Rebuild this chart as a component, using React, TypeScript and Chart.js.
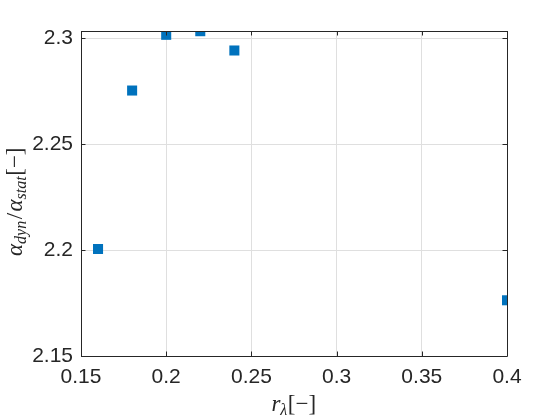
import React, { useEffect, useRef } from "react";
import { Chart, registerables } from "chart.js";
Chart.register(...registerables);

const rLambda = [0.16, 0.18, 0.2, 0.22, 0.24, 0.4];
const alphaRatio = [2.2005, 2.2753, 2.3016, 2.3033, 2.2942, 2.1763];
const xTicks = [0.15, 0.2, 0.25, 0.3, 0.35, 0.4];
const yTicks = [2.15, 2.2, 2.25, 2.3];
const xRange = [0.15, 0.4];
const yRange = [2.15, 2.3034];

const AXIS = "#262626";
const GRID = "#dfdfdf";
const MARK = "#0072BD";
const TICK_FONT = "'Liberation Sans', Arial, Helvetica, sans-serif";
const SERIF = "'Liberation Serif', 'Times New Roman', serif";

type Part = { t: string; size: number; italic: boolean; dy: number; gap?: number };

function drawRich(ctx: CanvasRenderingContext2D, parts: Part[], cx: number, baseline: number) {
  let total = 0;
  const widths: number[] = [];
  for (const p of parts) {
    ctx.font = `${p.italic ? "italic " : ""}${p.size}px ${SERIF}`;
    const w = ctx.measureText(p.t).width + (p.gap || 0);
    widths.push(w);
    total += w;
  }
  let x = cx - total / 2;
  parts.forEach((p, i) => {
    ctx.font = `${p.italic ? "italic " : ""}${p.size}px ${SERIF}`;
    ctx.fillText(p.t, x + (p.gap || 0) / 2, baseline + p.dy);
    x += widths[i];
  });
}

const decorPlugin = {
  id: "decor",
  afterDraw(chart: any) {
    const { ctx, chartArea } = chart;
    const { left, right, top, bottom } = chartArea;
    const xs = chart.scales.x;
    const ys = chart.scales.y;
    ctx.save();
    ctx.strokeStyle = AXIS;
    ctx.lineWidth = 1;
    ctx.beginPath();
    ctx.rect(Math.round(left) + 0.5, Math.round(top) + 0.5, Math.round(right) - Math.round(left), Math.round(bottom) - Math.round(top));
    ctx.stroke();
    const tl = 4.5;
    ctx.beginPath();
    for (const v of xTicks) {
      const px = Math.round(xs.getPixelForValue(v)) + 0.5;
      ctx.moveTo(px, bottom);
      ctx.lineTo(px, bottom - tl);
      ctx.moveTo(px, top);
      ctx.lineTo(px, top + tl);
    }
    for (const v of yTicks) {
      const py = Math.round(ys.getPixelForValue(v)) + 0.5;
      ctx.moveTo(left, py);
      ctx.lineTo(left + tl, py);
      ctx.moveTo(right, py);
      ctx.lineTo(right - tl, py);
    }
    ctx.stroke();

    ctx.fillStyle = AXIS;
    ctx.textBaseline = "alphabetic";
    ctx.textAlign = "left";
    // x axis title: r_λ [−]
    drawRich(
      ctx,
      [
        { t: "r", size: 23, italic: true, dy: 0 },
        { t: "λ", size: 16, italic: true, dy: 4 },
        { t: "[−]", size: 23, italic: false, dy: 0, gap: 1 },
      ],
      (left + right) / 2,
      411
    );
    // y axis title: α_dyn/α_stat [−]
    ctx.save();
    ctx.translate(22, (top + bottom) / 2 + 8);
    ctx.rotate(-Math.PI / 2);
    drawRich(
      ctx,
      [
        { t: "α", size: 23, italic: true, dy: 0 },
        { t: "dyn", size: 16, italic: true, dy: 4 },
        { t: "/", size: 23, italic: false, dy: 0, gap: 3 },
        { t: "α", size: 23, italic: true, dy: 0 },
        { t: "stat", size: 16, italic: true, dy: 4 },
        { t: "[−]", size: 23, italic: false, dy: 0, gap: 1 },
      ],
      0,
      0
    );
    ctx.restore();
    ctx.restore();
  },
};

function fmt(v: number) {
  return String(Number(v.toFixed(4)));
}

export default function App() {
  const ref = useRef<HTMLCanvasElement | null>(null);
  useEffect(() => {
    document.body.style.margin = "0";
    const canvas = ref.current!;
    const chart = new Chart(canvas, {
      type: "scatter",
      data: {
        datasets: [
          {
            data: rLambda.map((x, i) => ({ x, y: alphaRatio[i] })),
            pointStyle: "rect",
            pointRadius: 7.1,
            pointHoverRadius: 7.1,
            backgroundColor: MARK,
            borderColor: MARK,
            borderWidth: 0,
          },
        ],
      },
      options: {
        animation: false,
        responsive: false,
        events: [],
        layout: { padding: { left: 0, top: 31, right: 53, bottom: 0 } },
        plugins: { legend: { display: false }, tooltip: { enabled: false } },
        scales: {
          x: {
            type: "linear",
            min: xRange[0],
            max: xRange[1],
            afterBuildTicks: (s: any) => {
              s.ticks = xTicks.map((v) => ({ value: v }));
            },
            afterFit: (s: any) => {
              s.height = 64;
            },
            grid: { color: GRID, drawTicks: false, lineWidth: 1 },
            border: { display: false },
            ticks: {
              color: AXIS,
              font: { family: TICK_FONT, size: 21 },
              padding: 9,
              maxRotation: 0,
              autoSkip: false,
              callback: (v: any) => fmt(Number(v)),
            },
          },
          y: {
            type: "linear",
            min: yRange[0],
            max: yRange[1],
            afterBuildTicks: (s: any) => {
              s.ticks = yTicks.map((v) => ({ value: v }));
            },
            afterFit: (s: any) => {
              s.width = 81;
            },
            grid: { color: GRID, drawTicks: false, lineWidth: 1 },
            border: { display: false },
            ticks: {
              color: AXIS,
              font: { family: TICK_FONT, size: 21 },
              padding: 8,
              autoSkip: false,
              callback: (v: any) => fmt(Number(v)),
            },
          },
        },
      },
      plugins: [decorPlugin],
    } as any);
    return () => chart.destroy();
  }, []);
  return (
    <div style={{ position: "absolute", left: 0, top: 0, width: 560, height: 420, background: "#fff" }}>
      <canvas ref={ref} width={560} height={420} style={{ display: "block" }} />
    </div>
  );
}
